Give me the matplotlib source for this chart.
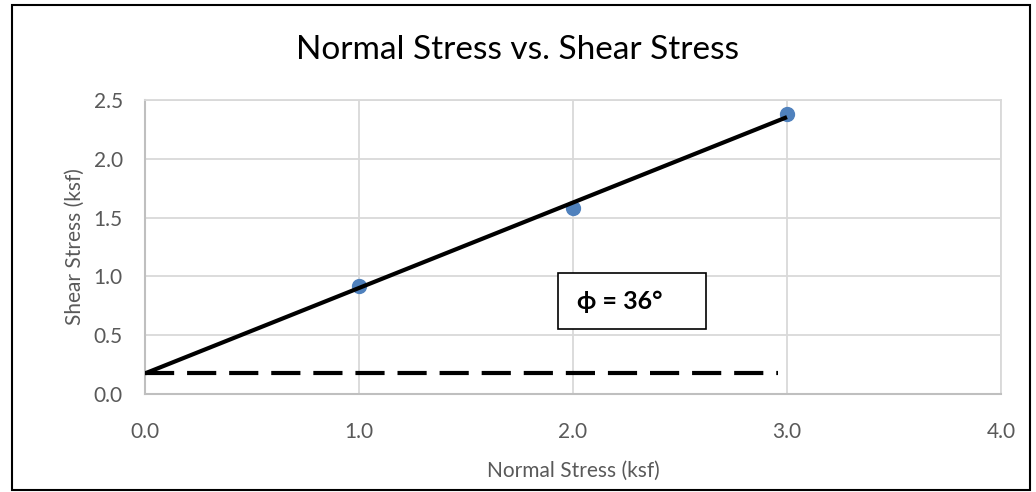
import matplotlib.pyplot as plt
import numpy as np
from matplotlib.patches import Rectangle

# test data
normal = [1.0, 2.0, 3.0]
shear = [0.92, 1.58, 2.38]

# failure envelope
cohesion = 0.175
phi_deg = 36
fit_x = [0.0, 3.0]
base_x = [0.0, 2.96]

xticks = [0.0, 1.0, 2.0, 3.0, 4.0]
yticks = [0.0, 0.5, 1.0, 1.5, 2.0, 2.5]

plt.rcParams['font.family'] = ['Lato', 'DejaVu Sans']

fig = plt.figure(figsize=(10.36, 4.92), dpi=100)
ax = fig.add_axes([145 / 1036, 1 - 394 / 492, 856 / 1036, 294 / 492])

fit_y = [cohesion + np.tan(np.radians(phi_deg)) * x for x in fit_x]
ax.plot(base_x, [cohesion, cohesion], color='black', lw=3, dashes=(7, 3.1), zorder=3)
ax.plot(fit_x, fit_y, color='black', lw=3, solid_capstyle='butt', zorder=4)
ax.plot(normal, shear, 'o', color='#4f81bd', ms=10, zorder=2)

ax.set_xlim(0, 4)
ax.set_ylim(0, 2.5)
ax.set_xticks(xticks)
ax.set_yticks(yticks)
ax.set_xticklabels(['%.1f' % v for v in xticks])
ax.set_yticklabels(['%.1f' % v for v in yticks])
ax.tick_params(length=0, labelsize=15, colors='#595959')
ax.tick_params(axis='x', pad=20)
ax.tick_params(axis='y', pad=16)
ax.grid(True, color='#d9d9d9', lw=1.3)
ax.set_axisbelow(True)
for s in ['top', 'right']:
    ax.spines[s].set_color('#d9d9d9')
    ax.spines[s].set_linewidth(1.3)
for s in ['bottom', 'left']:
    ax.spines[s].set_color('#bfbfbf')
    ax.spines[s].set_linewidth(1.5)

ax.set_xlabel('Normal Stress (ksf)', fontsize=15, color='#595959', labelpad=14)
ax.set_ylabel('Shear Stress (ksf)', fontsize=15, color='#595959', labelpad=6)
fig.text(0.5, 1 - 50 / 492, 'Normal Stress vs. Shear Stress', fontsize=24,
         ha='center', va='center', color='black')

# annotation box
ax.add_patch(Rectangle((0.4825, 0.221), 0.173, 0.19, transform=ax.transAxes,
                       fc='white', ec='black', lw=1.2, zorder=6))
ax.text(0.505, 0.316, '\u03d5 = %d\u00b0' % phi_deg, transform=ax.transAxes,
        fontsize=18, fontweight='bold', va='center', ha='left', zorder=7)

# outer frame
fig.patches.append(Rectangle((12 / 1036, 1 - 490 / 492), 1018 / 1036, 485 / 492,
                             transform=fig.transFigure, fill=False, ec='black', lw=1.5))

fig.savefig('out.png', dpi=100)
